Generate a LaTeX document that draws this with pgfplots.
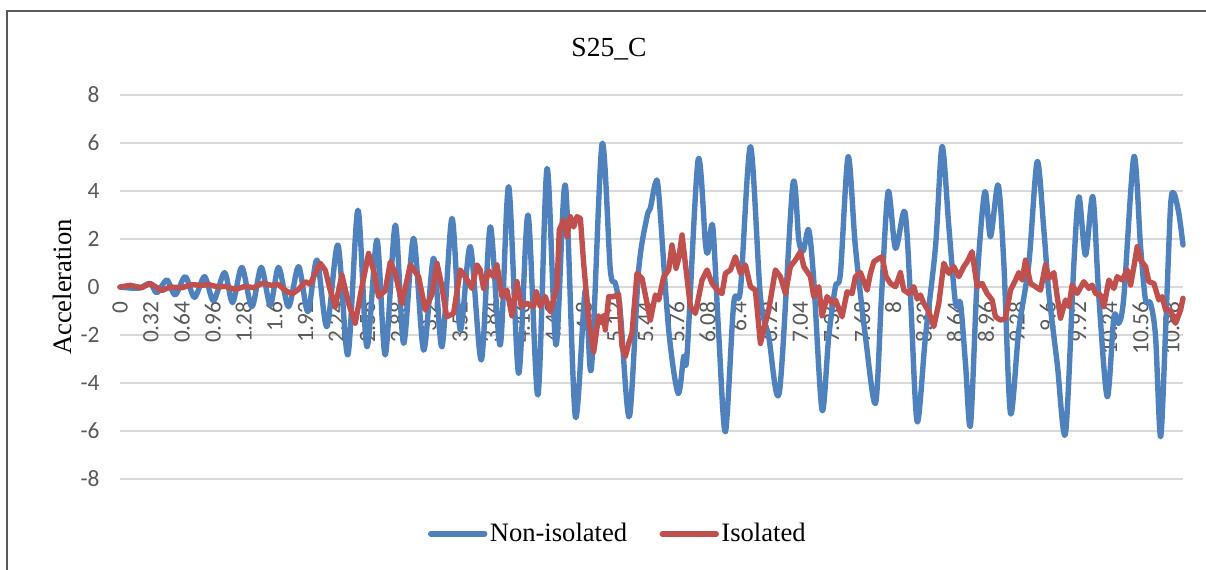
\documentclass[border=0pt]{standalone}
\usepackage{fontspec}
\setmainfont{Liberation Serif}
\newfontfamily\calibri{Carlito}
\usepackage{pgfplots}
\pgfplotsset{compat=1.18}
\definecolor{nonblue}{HTML}{4F81BD}
\definecolor{isored}{HTML}{C0504D}
\definecolor{gridgray}{HTML}{D9D9D9}
\definecolor{ticktext}{HTML}{595959}
\begin{document}
\begin{tikzpicture}
\useasboundingbox (-60pt,-45pt) rectangle (543pt,239.5pt);
\draw[color=ticktext, line width=0.6pt] (-56.5pt,-46pt) -- (-56.5pt,234pt) -- (544pt,234pt);
\begin{axis}[
  at={(0pt,0pt)}, anchor=south west,
  scale only axis, width=531.5pt, height=192pt,
  xmin=0, xmax=11, ymin=-8, ymax=8,
  axis x line=middle, axis y line=left,
  axis line style={draw=none},
  hide obscured x ticks=false, hide obscured y ticks=false,
  major tick length=0pt,
  clip=false,
  ytick={-8,-6,-4,-2,0,2,4,6,8},
  yticklabels={-8,-6,-4,-2,0,2,4,6,8},
  ymajorgrids, grid style={gridgray, line width=0.75pt},
  xtick={0,0.32,0.64,0.96,1.28,1.6,1.92,2.24,2.56,2.88,3.2,3.52,3.84,4.16,4.48,4.8,5.12,5.44,5.76,6.08,6.4,6.72,7.04,7.36,7.68,8,8.32,8.64,8.96,9.28,9.6,9.92,10.24,10.56,10.88},
  xticklabels={0,0.32,0.64,0.96,1.28,1.6,1.92,2.24,2.56,2.88,3.2,3.52,3.84,4.16,4.48,4.8,5.12,5.44,5.76,6.08,6.4,6.72,7.04,7.36,7.68,8,8.32,8.64,8.96,9.28,9.6,9.92,10.24,10.56,10.88},
  ticklabel style={font=\calibri\fontsize{11.7}{13}\selectfont, text=ticktext},
  yticklabel style={anchor=east, xshift=-6.7pt},
  xticklabel style={yshift=-3.7pt, rotate=90, anchor=east},
  /pgf/number format/assume math mode=true,
  title={S25\_C},
  title style={at={(axis description cs:0.46,1.124)}, anchor=center, yshift=-7pt, font=\fontsize{13.8}{16}\selectfont},
  ylabel={Acceleration},
  ylabel style={at={(axis description cs:-0.0546,0.5)}, anchor=center, font=\fontsize{13.3}{16}\selectfont},
  legend style={at={(axis description cs:0.4685,-0.143)}, anchor=center, draw=none, fill=none,
    legend columns=2, font=\fontsize{13.3}{16}\selectfont, inner sep=0pt,
    nodes={inner sep=1.2pt},
    /tikz/every even column/.append style={column sep=15pt}},
  legend image code/.code={\draw[#1] (0pt,0pt) -- (27pt,0pt);},
]
\addplot[nonblue, line width=2.7pt, line cap=round, line join=round, smooth, tension=0.5] coordinates {
(0,0) (0.19,-0.05) (0.312,0.15) (0.381,-0.24) (0.485,0.29) (0.571,-0.33) (0.675,0.43) (0.771,-0.43)
(0.875,0.43) (0.968,-0.57) (1.082,0.6) (1.165,-0.65) (1.261,0.82) (1.365,-0.82) (1.461,0.82) (1.555,-0.75)
(1.641,0.82) (1.744,-0.82) (1.848,0.85) (1.944,-1.03) (2.038,1.12) (2.141,-1.65) (2.255,1.75) (2.358,-2.83)
(2.462,3.2) (2.555,-2.49) (2.659,1.96) (2.745,-2.83) (2.849,2.58) (2.935,-2.35) (3.038,2.03) (3.142,-2.63)
(3.245,1.2) (3.332,-2.49) (3.435,2.86) (3.521,-1.79) (3.625,1.68) (3.739,-3.04) (3.832,2.51) (3.935,-2.42)
(4.022,4.18) (4.125,-3.6) (4.222,3.0) (4.325,-4.5) (4.419,4.94) (4.512,-2.42) (4.608,4.25) (4.712,-5.4)
(4.815,-0.13) (4.878,-3.39) (4.988,5.95) (5.074,0.71) (5.126,0.15) (5.178,-1.1) (5.271,-5.4) (5.367,0.71)
(5.454,2.93) (5.488,3.28) (5.54,4.32) (5.575,3.9) (5.678,-1.79) (5.775,-4.43) (5.833,-2.9) (5.868,-2.8)
(5.982,5.29) (6.058,1.82) (6.085,1.47) (6.134,2.51) (6.196,-2.0) (6.265,-6.03) (6.351,-0.68) (6.42,-0.13)
(6.524,5.85) (6.627,-0.4) (6.713,-2.07) (6.824,-4.36) (6.962,4.25) (7.024,1.96) (7.07,1.5) (7.127,2.38)
(7.179,0.29) (7.265,-5.13) (7.334,-2.07) (7.403,0.01) (7.455,0.57) (7.535,5.43) (7.61,1.68) (7.714,-2.07)
(7.818,-4.85) (7.88,-0.4) (7.949,3.97) (8.025,1.61) (8.121,3.14) (8.18,-0.4) (8.249,-5.61) (8.335,-2.07)
(8.439,1.68) (8.507,5.85) (8.577,2.51) (8.646,-0.68) (8.697,-0.68) (8.749,-3.18) (8.801,-5.75) (8.87,0.29)
(8.949,3.97) (9.008,2.1) (9.087,4.25) (9.146,0.99) (9.215,-5.26) (9.301,-1.79) (9.405,0.99) (9.491,5.22)
(9.56,2.38) (9.612,-0.26) (9.698,-3.18) (9.784,-6.1) (9.871,0.99) (9.923,3.76) (9.991,1.33) (10.067,3.76)
(10.129,-0.4) (10.216,-4.57) (10.285,-1.24) (10.336,-1.51) (10.388,-0.4) (10.492,5.43) (10.561,1.68) (10.612,-0.54)
(10.664,-0.68) (10.716,-2.07) (10.768,-6.24) (10.82,-1.79) (10.871,3.35) (10.906,3.9) (10.957,3.07) (11.0,1.75)
};
\addlegendentry{Non-isolated}
\addplot[isored, line width=2.7pt, line cap=round, line join=round] coordinates {
(0,0) (0.105,0.07) (0.226,-0.03) (0.312,0.15) (0.433,-0.15) (0.519,0) (0.64,-0.03) (0.744,0.1)
(0.847,0.07) (0.916,0.1) (1.02,0) (1.089,0.03) (1.192,-0.1) (1.296,0.03) (1.382,-0.03) (1.468,0.15)
(1.572,0.07) (1.641,0.1) (1.71,-0.14) (1.779,-0.29) (1.848,-0.1) (1.917,0.22) (1.969,0.12) (2.02,0.57)
(2.072,0.99) (2.124,0.7) (2.176,-0.14) (2.227,-0.82) (2.296,0.5) (2.365,-0.68) (2.434,-1.51) (2.503,0)
(2.572,1.4) (2.624,0.7) (2.676,-0.4) (2.745,-0.15) (2.797,1.05) (2.849,0.57) (2.917,-0.68) (3.004,0.92)
(3.09,0.43) (3.159,-0.96) (3.228,-0.3) (3.28,0.99) (3.332,0) (3.38,-1.24) (3.452,-1.1) (3.521,0.71)
(3.573,0.43) (3.642,-0.06) (3.694,0.92) (3.728,0.71) (3.763,-0.06) (3.815,0.67) (3.866,0.43) (3.901,0.92)
(3.953,-0.4) (4.004,-0.13) (4.056,-1.2) (4.108,0.22) (4.153,-0.82) (4.211,-0.68) (4.28,-0.82) (4.308,-0.2)
(4.35,-0.82) (4.401,-0.4) (4.453,-1.03) (4.488,-0.5) (4.522,0) (4.546,2.38) (4.591,2.79) (4.626,2.1)
(4.66,2.93) (4.695,2.5) (4.729,2.93) (4.764,2.86) (4.798,0.99) (4.85,-1.38) (4.902,-2.7) (4.953,-1.2)
(4.988,-1.5) (5.005,-1.2) (5.022,-1.79) (5.057,-0.4) (5.109,-0.4) (5.16,-0.3) (5.195,-2.49) (5.229,-2.9)
(5.264,-2.35) (5.298,-1.93) (5.35,0.57) (5.402,0.36) (5.454,-0.68) (5.488,-1.38) (5.54,-0.33) (5.575,-0.54)
(5.626,0.43) (5.678,0.71) (5.712,1.75) (5.754,0.78) (5.782,1.2) (5.816,2.17) (5.85,0.99) (5.902,-0.82)
(5.954,-1.1) (6.023,0.29) (6.075,0.71) (6.127,0.15) (6.196,-0.2) (6.23,-0.27) (6.265,0.57) (6.317,0.71)
(6.368,1.26) (6.42,0.57) (6.472,0.92) (6.524,0.01) (6.575,-0.13) (6.627,-2.35) (6.661,-1.79) (6.713,-0.96)
(6.782,0.71) (6.834,0.43) (6.886,-0.27) (6.937,0.85) (6.989,1.12) (7.041,1.47) (7.076,0.85) (7.145,0.43)
(7.179,-0.4) (7.231,0.01) (7.265,-1.2) (7.317,-0.4) (7.369,-0.68) (7.403,-0.54) (7.472,-1.24) (7.524,-0.2)
(7.576,-0.27) (7.61,0.43) (7.662,0.6) (7.731,-0.13) (7.766,0.57) (7.8,1.05) (7.852,1.19) (7.886,1.26)
(7.928,0.43) (7.973,0.15) (8.025,0.01) (8.076,0.6) (8.111,-0.13) (8.163,-0.27) (8.214,0.01) (8.249,-0.5)
(8.283,-0.33) (8.318,-0.68) (8.37,-1.03) (8.421,-1.65) (8.473,-0.68) (8.525,0.99) (8.577,0.57) (8.628,0.85)
(8.68,0.43) (8.732,0.85) (8.766,1.05) (8.818,1.47) (8.87,0.01) (8.921,0.15) (8.973,-0.27) (9.025,-0.54)
(9.059,-1.24) (9.111,-1.38) (9.163,-1.31) (9.215,-0.13) (9.267,0.29) (9.301,0.6) (9.336,0.29) (9.37,1.12)
(9.422,0.15) (9.474,0.01) (9.526,-0.13) (9.577,0.92) (9.612,0.36) (9.664,0.6) (9.698,-0.4) (9.733,-1.3)
(9.784,-0.54) (9.819,-0.82) (9.853,0.08) (9.905,-0.27) (9.974,0.22) (10.026,-0.06) (10.06,0.08) (10.095,-0.27)
(10.147,-0.33) (10.181,-0.82) (10.233,0.29) (10.285,-0.06) (10.319,0.43) (10.371,0.29) (10.423,0.71) (10.458,0.08)
(10.492,0.85) (10.526,1.68) (10.561,1.12) (10.612,0.85) (10.647,0.22) (10.699,0.15) (10.75,-0.54) (10.785,-0.4)
(10.82,-0.96) (10.871,-0.96) (10.923,-1.51) (10.975,-0.96) (11.0,-0.47)
};
\addlegendentry{Isolated}
\end{axis}
\end{tikzpicture}
\end{document}
